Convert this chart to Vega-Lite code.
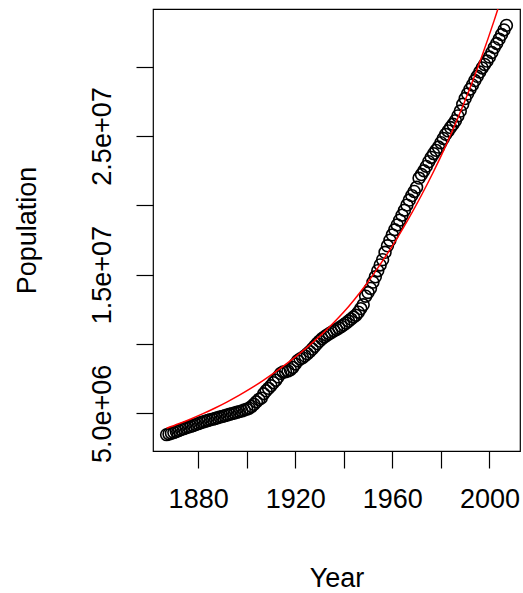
{
  "$schema": "https://vega.github.io/schema/vega-lite/v6.json",
  "autosize": {"type": "none"},
  "width": 367,
  "height": 442,
  "padding": {"left": 153, "top": 9, "right": 3, "bottom": 142},
  "background": "white",
  "config": {
    "view": {"stroke": "#000000", "strokeWidth": 1.2},
    "font": "Liberation Sans",
    "axis": {"grid": false, "domain": false, "tickColor": "#000000", "tickWidth": 1.2, "tickSize": 17, "labelColor": "#000000", "labelFont": "Liberation Sans", "labelFontSize": 27, "titleFont": "Liberation Sans", "titleFontSize": 27, "titleFontWeight": "normal", "titleColor": "#000000", "labelOverlap": false, "labelFlush": false, "labelBound": false}
  },
  "datasets": {
    "pop": [
      {"Year":1867,"Population":3463000},{"Year":1868,"Population":3511000},{"Year":1869,"Population":3565000},{"Year":1870,"Population":3625000},{"Year":1871,"Population":3689000},{"Year":1872,"Population":3754000},{"Year":1873,"Population":3826000},{"Year":1874,"Population":3895000},{"Year":1875,"Population":3954000},{"Year":1876,"Population":4009000},{"Year":1877,"Population":4064000},{"Year":1878,"Population":4120000},{"Year":1879,"Population":4185000},{"Year":1880,"Population":4255000},{"Year":1881,"Population":4325000},{"Year":1882,"Population":4375000},{"Year":1883,"Population":4430000},{"Year":1884,"Population":4487000},{"Year":1885,"Population":4537000},{"Year":1886,"Population":4580000},{"Year":1887,"Population":4626000},{"Year":1888,"Population":4678000},{"Year":1889,"Population":4729000},{"Year":1890,"Population":4779000},{"Year":1891,"Population":4833000},{"Year":1892,"Population":4883000},{"Year":1893,"Population":4931000},{"Year":1894,"Population":4979000},{"Year":1895,"Population":5026000},{"Year":1896,"Population":5074000},{"Year":1897,"Population":5122000},{"Year":1898,"Population":5175000},{"Year":1899,"Population":5235000},{"Year":1900,"Population":5301000},{"Year":1901,"Population":5371000},{"Year":1902,"Population":5494000},{"Year":1903,"Population":5651000},{"Year":1904,"Population":5827000},{"Year":1905,"Population":6002000},{"Year":1906,"Population":6097000},{"Year":1907,"Population":6411000},{"Year":1908,"Population":6625000},{"Year":1909,"Population":6800000},{"Year":1910,"Population":6988000},{"Year":1911,"Population":7207000},{"Year":1912,"Population":7389000},{"Year":1913,"Population":7632000},{"Year":1914,"Population":7879000},{"Year":1915,"Population":7981000},{"Year":1916,"Population":8001000},{"Year":1917,"Population":8060000},{"Year":1918,"Population":8148000},{"Year":1919,"Population":8311000},{"Year":1920,"Population":8556000},{"Year":1921,"Population":8788000},{"Year":1922,"Population":8919000},{"Year":1923,"Population":9010000},{"Year":1924,"Population":9143000},{"Year":1925,"Population":9294000},{"Year":1926,"Population":9451000},{"Year":1927,"Population":9637000},{"Year":1928,"Population":9835000},{"Year":1929,"Population":10029000},{"Year":1930,"Population":10208000},{"Year":1931,"Population":10377000},{"Year":1932,"Population":10510000},{"Year":1933,"Population":10633000},{"Year":1934,"Population":10741000},{"Year":1935,"Population":10845000},{"Year":1936,"Population":10950000},{"Year":1937,"Population":11045000},{"Year":1938,"Population":11152000},{"Year":1939,"Population":11267000},{"Year":1940,"Population":11381000},{"Year":1941,"Population":11507000},{"Year":1942,"Population":11654000},{"Year":1943,"Population":11795000},{"Year":1944,"Population":11946000},{"Year":1945,"Population":12072000},{"Year":1946,"Population":12292000},{"Year":1947,"Population":12551000},{"Year":1948,"Population":12823000},{"Year":1949,"Population":13447000},{"Year":1950,"Population":13712000},{"Year":1951,"Population":14009000},{"Year":1952,"Population":14459000},{"Year":1953,"Population":14845000},{"Year":1954,"Population":15287000},{"Year":1955,"Population":15698000},{"Year":1956,"Population":16081000},{"Year":1957,"Population":16610000},{"Year":1958,"Population":17080000},{"Year":1959,"Population":17483000},{"Year":1960,"Population":17870000},{"Year":1961,"Population":18238000},{"Year":1962,"Population":18583000},{"Year":1963,"Population":18931000},{"Year":1964,"Population":19291000},{"Year":1965,"Population":19644000},{"Year":1966,"Population":20015000},{"Year":1967,"Population":20378000},{"Year":1968,"Population":20701000},{"Year":1969,"Population":21001000},{"Year":1970,"Population":21297000},{"Year":1971,"Population":21962000},{"Year":1972,"Population":22219000},{"Year":1973,"Population":22492000},{"Year":1974,"Population":22808000},{"Year":1975,"Population":23143000},{"Year":1976,"Population":23450000},{"Year":1977,"Population":23726000},{"Year":1978,"Population":23963000},{"Year":1979,"Population":24202000},{"Year":1980,"Population":24516000},{"Year":1981,"Population":24820000},{"Year":1982,"Population":25117000},{"Year":1983,"Population":25367000},{"Year":1984,"Population":25608000},{"Year":1985,"Population":25843000},{"Year":1986,"Population":26101000},{"Year":1987,"Population":26449000},{"Year":1988,"Population":26795000},{"Year":1989,"Population":27282000},{"Year":1990,"Population":27698000},{"Year":1991,"Population":28037000},{"Year":1992,"Population":28372000},{"Year":1993,"Population":28682000},{"Year":1994,"Population":28999000},{"Year":1995,"Population":29302000},{"Year":1996,"Population":29611000},{"Year":1997,"Population":29907000},{"Year":1998,"Population":30157000},{"Year":1999,"Population":30404000},{"Year":2000,"Population":30689000},{"Year":2001,"Population":31021000},{"Year":2002,"Population":31373000},{"Year":2003,"Population":31669000},{"Year":2004,"Population":31985000},{"Year":2005,"Population":32312000},{"Year":2006,"Population":32649000},{"Year":2007,"Population":32976000}
    ],
    "fit": [
      {"Year":1867,"Population":3920000},{"Year":1872,"Population":4243000},{"Year":1877,"Population":4594000},{"Year":1882,"Population":4973000},{"Year":1887,"Population":5383000},{"Year":1892,"Population":5828000},{"Year":1897,"Population":6308000},{"Year":1902,"Population":6829000},{"Year":1907,"Population":7393000},{"Year":1912,"Population":8003000},{"Year":1917,"Population":8650000},{"Year":1922,"Population":9340000},{"Year":1927,"Population":10080000},{"Year":1932,"Population":10870000},{"Year":1937,"Population":11740000},{"Year":1942,"Population":12700000},{"Year":1947,"Population":13780000},{"Year":1952,"Population":14970000},{"Year":1957,"Population":16260000},{"Year":1962,"Population":17640000},{"Year":1967,"Population":19130000},{"Year":1972,"Population":20726000},{"Year":1977,"Population":22437000},{"Year":1982,"Population":24288000},{"Year":1987,"Population":26292000},{"Year":1992,"Population":28462000},{"Year":1997,"Population":30811000},{"Year":2002,"Population":33354000},{"Year":2007,"Population":36107000}
    ]
  },
  "encoding": {
    "x": {"field": "Year", "type": "quantitative", "scale": {"domain": [1861.4, 2012.6], "nice": false, "zero": false},
      "axis": {"values": [1880, 1900, 1920, 1940, 1960, 1980, 2000], "labelExpr": "indexof([1880,1920,1960,2000], datum.value) >= 0 ? datum.value + '' : ''", "labelPadding": 18, "labelBaseline": "top", "title": "Year", "titleBaseline": "alphabetic", "titleY": 135}},
    "y": {"field": "Population", "type": "quantitative", "scale": {"domain": [2282500, 34157000], "nice": false, "zero": false},
      "axis": {"values": [5000000, 10000000, 15000000, 20000000, 25000000, 30000000], "labelExpr": "datum.value == 5000000 ? '5.0e+06' : datum.value == 15000000 ? '1.5e+07' : datum.value == 25000000 ? '2.5e+07' : ''", "labelAngle": -90, "labelAlign": "center", "labelBaseline": "alphabetic", "labelPadding": 26, "title": "Population", "titleAngle": -90, "titleAlign": "center", "titleBaseline": "alphabetic", "titleX": -118, "titleY": 221}}
  },
  "layer": [
    {"data": {"name": "pop"}, "mark": {"type": "point", "shape": "circle", "filled": false, "stroke": "#000000", "strokeWidth": 1.6, "size": 140, "opacity": 1}},
    {"data": {"name": "fit"}, "mark": {"type": "line", "color": "#ff0000", "strokeWidth": 1.5, "clip": true, "interpolate": "monotone"}}
  ]
}
